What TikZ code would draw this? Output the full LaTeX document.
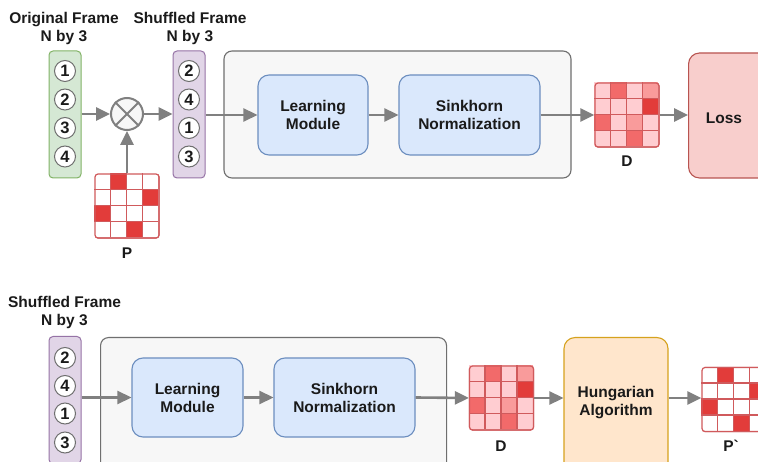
\documentclass[tikz,border=0pt]{standalone}
\usepackage{fontspec}
\setmainfont{Liberation Sans}
\newfontfamily\labfont{Liberation Sans}
\usetikzlibrary{arrows.meta,calc}

\definecolor{txt}{HTML}{1A1A1A}
\definecolor{arr}{HTML}{808080}
\definecolor{grnF}{HTML}{D5E8D4}\definecolor{grnD}{HTML}{82B366}
\definecolor{purF}{HTML}{E1D5E7}\definecolor{purD}{HTML}{9673A6}
\definecolor{bluF}{HTML}{DAE8FC}\definecolor{bluD}{HTML}{6C8EBF}
\definecolor{redF}{HTML}{F8CECC}\definecolor{redD}{HTML}{B85450}
\definecolor{orgF}{HTML}{FFE6CC}\definecolor{orgD}{HTML}{D6A21E}
\definecolor{boxF}{HTML}{F7F7F7}\definecolor{boxD}{HTML}{6F6F6F}
\definecolor{gridL}{HTML}{D05A5C}
\definecolor{cW}{HTML}{FFFFFF}
\definecolor{cL}{HTML}{FFCDD1}
\definecolor{cM}{HTML}{F99B9B}
\definecolor{cH}{HTML}{F26A6A}
\definecolor{cX}{HTML}{E23C3A}

\tikzset{
  lbl/.style={font=\bfseries\fontsize{15.5}{18}\selectfont, text=txt, align=center, inner sep=0pt},
  bar/.style={rounded corners=4pt, line width=1pt, minimum width=32pt, minimum height=127pt, inner sep=0pt},
  gbar/.style={bar, fill=grnF, draw=grnD},
  pbar/.style={bar, fill=purF, draw=purD},
  num/.style={circle, draw=boxD, fill=white, line width=1pt, minimum size=21pt, inner sep=0pt,
              font=\bfseries\fontsize{16.5}{18}\selectfont, text=txt},
  holder/.style={rounded corners=8pt, draw=boxD, fill=boxF, line width=1.1pt, inner sep=0pt},
  blk/.style={lbl, rounded corners=11pt, line width=1.1pt, inner sep=0pt},
  bblk/.style={blk, fill=bluF, draw=bluD, minimum height=80pt},
  mat/.style={rectangle, rounded corners=3pt, minimum size=64pt, inner sep=0pt, draw=gridL, line width=1.2pt},
  flow/.style={draw=arr, line width=2.6pt, -{Triangle[length=14pt,width=13pt]}},
}

% 4x4 grid of coloured cells inside a matrix node
\newcommand{\gridcells}[2]{%
  \foreach \cc [count=\ii from 0] in {#2} {%
    \pgfmathtruncatemacro\rr{div(\ii,4)}%
    \pgfmathtruncatemacro\kk{mod(\ii,4)}%
    \fill[\cc] ($(#1.north west)+(\kk*16,\rr*16)$) rectangle ++(16,16);
  }%
  \foreach \t in {1,2,3} {%
    \draw[gridL, line width=1.4pt] ($(#1.north west)+(\t*16,0)$) -- ++(0,64);
    \draw[gridL, line width=1.4pt] ($(#1.north west)+(0,\t*16)$) -- ++(64,0);
  }%
  \node[mat] at (#1.center) {};
}

\begin{document}
\begin{tikzpicture}[x=1pt, y=-1pt]
\clip (0,0) rectangle (758,462);
\fill[white] (0,0) rectangle (758,462);

% ---------- training pipeline ----------
\node[lbl] (t1) at (64,28) {Original Frame\\N by 3};
\node[lbl] (t2) at (190,28) {Shuffled Frame\\N by 3};

\node[gbar] (orig) at (65,114.5) {};
\node[num] (o1) at (65,71) {1};
\node[num] (o2) at (65,99.5) {2};
\node[num] (o3) at (65,128) {3};
\node[num] (o4) at (65,156.5) {4};

\node[pbar] (shuf) at (189,114.5) {};
\node[num] (s1) at (189,71) {2};
\node[num] (s2) at (189,99.5) {4};
\node[num] (s3) at (189,128) {1};
\node[num] (s4) at (189,156.5) {3};

\node[circle, draw=arr, fill=boxF, line width=2pt, minimum size=32pt, inner sep=0pt] (mul) at (127,114) {};
\draw[arr, line width=2pt] (mul.north west) -- (mul.south east);
\draw[arr, line width=2pt] (mul.north east) -- (mul.south west);

\node[mat] (P) at (127,206) {};
\gridcells{P}{cW,cX,cW,cW, cW,cW,cW,cX, cX,cW,cW,cW, cW,cW,cX,cW}
\node[lbl] (Plbl) at (127,253) {P};

\node[holder, minimum width=347pt, minimum height=127pt] (net) at (397.5,114.5) {};
\node[bblk, minimum width=110pt] (lm) at (313,115) {Learning\\Module};
\node[bblk, minimum width=141pt] (sk) at (469.5,115) {Sinkhorn\\Normalization};

\node[mat] (D) at (627,115) {};
\gridcells{D}{cL,cH,cL,cM, cL,cL,cL,cX, cH,cL,cM,cL, cL,cL,cH,cL}
\node[lbl] (Dlbl) at (627,161) {D};

\node[blk, fill=redF, draw=redD, minimum width=90pt, minimum height=125pt, anchor=west] (loss) at (688,115.5) {};
\node[lbl] (losst) at (724,118) {Loss};

\draw[flow] (orig.east |- mul) -- (mul.west);
\draw[flow] (mul.east) -- (shuf.west |- mul);
\draw[flow] (P.north) -- (mul.south);
\draw[flow] (shuf.east |- lm) -- (lm.west);
\draw[flow] (lm.east) -- (sk.west);
\draw[flow] (sk.east) -- (D.west);
\draw[flow] (D.east) -- (D.east -| loss.west);

% ---------- inference pipeline ----------
\node[lbl] (t3) at (64.5,312.5) {Shuffled Frame\\N by 3};

\node[pbar, anchor=north] (shuf2) at (65,336) {};
\node[num] (b1) at (65,358) {2};
\node[num] (b2) at (65,386) {4};
\node[num] (b3) at (65,413.5) {1};
\node[num] (b4) at (65,442.5) {3};

\node[holder, minimum width=346pt, minimum height=135pt, anchor=north west] (net2) at (100,337) {};
\node[bblk, minimum width=111pt, minimum height=79pt] (lm2) at (187.5,397.5) {Learning\\Module};
\node[bblk, minimum width=141pt, minimum height=79pt] (sk2) at (344.5,397.5) {Sinkhorn\\Normalization};

\node[mat] (D2) at (501.5,398) {};
\gridcells{D2}{cL,cH,cL,cM, cL,cL,cL,cX, cH,cL,cM,cL, cL,cL,cH,cL}
\node[lbl] (D2lbl) at (501,446) {D};

\node[blk, fill=orgF, draw=orgD, minimum width=104pt, minimum height=135pt, anchor=north] (hun) at (616,337) {};
\node[lbl] (hunt) at (616,402.5) {Hungarian\\Algorithm};

\node[mat] (Pp) at (734,399.5) {};
\gridcells{Pp}{cW,cX,cW,cW, cW,cW,cW,cX, cX,cW,cW,cW, cW,cW,cX,cW}
\node[lbl] (Pplbl) at (731,446) {\labfont\bfseries P`};

\draw[flow] (shuf2.east |- lm2) -- (lm2.west);
\draw[flow] (lm2.east) -- (sk2.west);
\draw[flow] (sk2.east) -- (D2.west);
\draw[flow] (D2.east) -- (D2.east -| hun.west);
\draw[flow] (hun.east |- D2) -- (Pp.west |- D2);
\end{tikzpicture}
\end{document}
